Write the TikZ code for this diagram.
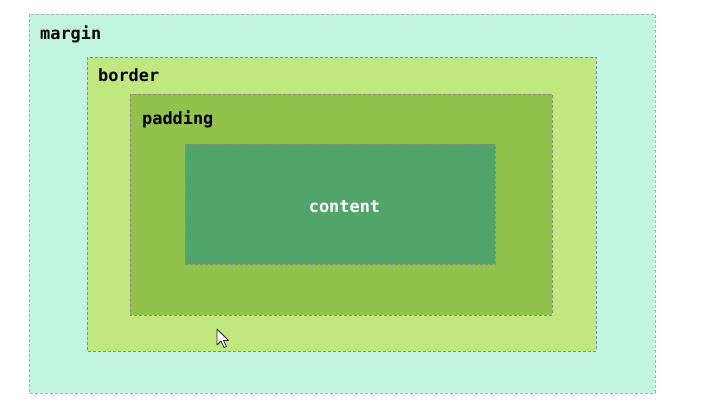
\documentclass[tikz,border=0pt]{standalone}
\usepackage{fontspec}
\setmonofont{DejaVu Sans Mono}
\definecolor{cmargin}{HTML}{C1F5E0}
\definecolor{cborder}{HTML}{C0E87E}
\definecolor{cpadding}{HTML}{91C24C}
\definecolor{ccontent}{HTML}{52A56A}
\definecolor{cdash}{HTML}{8A8A8A}
\tikzset{
  boxarea/.style={draw=cdash, line width=0.9pt, dash pattern=on 3pt off 2pt},
  lbl/.style={font=\fontsize{16.9}{19}\selectfont\ttfamily\bfseries, inner sep=0pt, anchor=base west},
}
\begin{document}
\begin{tikzpicture}[x=1pt,y=-1pt]
\useasboundingbox[fill=white] (0,0) rectangle (705,419);
\path[boxarea, fill=cmargin, draw=cdash!70] (29,14) rectangle (655,393);
\path[boxarea, fill=cborder] (87,57) rectangle (596,351);
\path[boxarea, fill=cpadding] (130,94) rectangle (552,315);
\path[boxarea, fill=ccontent] (185,144) rectangle (495,264);
\node[lbl] (m) at (40,39.5) {margin};
\node[lbl] (b) at (98,82) {border};
\node[lbl] (p) at (142,125) {padding};
\node[lbl, anchor=base, text=white] (c) at (344.5,212.5) {content};
% mouse cursor
\draw[fill=white, draw=black!85, line width=0.8pt, line join=round]
  (217,329) -- (217,345) -- (221,341) -- (224,347.5) -- (226.5,346.5) -- (223.5,340.5) -- (228.5,340.5) -- cycle;
\end{tikzpicture}
\end{document}
